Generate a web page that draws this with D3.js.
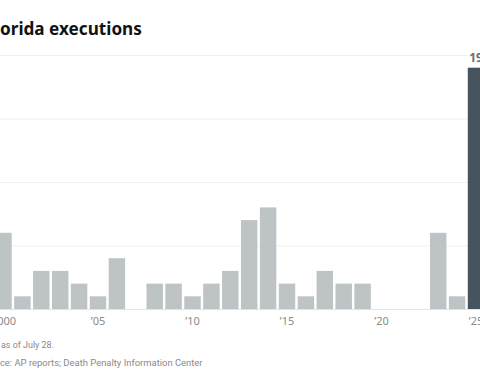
<!DOCTYPE html>
<html>
<head>
<meta charset="utf-8">
<script src="https://cdn.jsdelivr.net/npm/d3@7"></script>
<style>
  html, body { margin: 0; padding: 0; background: #fff; overflow: hidden; }
  svg { display: block; font-family: "Noto Sans", "Open Sans", sans-serif; }
</style>
</head>
<body>
<script>
const width = 480, height = 384;

// Florida executions per year
const years = d3.range(2000, 2026);
const counts = [6, 1, 3, 3, 2, 1, 4, 0, 2, 2, 1, 2, 3, 7, 8, 2, 1, 3, 2, 2, 0, 0, 0, 6, 1, 19];
const yTicks = [0, 5, 10, 15, 20];
const xTicks = [2000, 2005, 2010, 2015, 2020, 2025];
const highlightYear = 2025;

const data = years.map((y, i) => ({ year: y, value: counts[i] }));

const svg = d3.select('body').append('svg')
  .attr('width', width)
  .attr('height', height);

// the chart is cropped on both sides, so the band range runs past the frame
const step = 18.9;
const x = d3.scaleBand()
  .domain(years)
  .range([3.5 - step / 2, 3.5 - step / 2 + step * years.length])
  .paddingInner(0.13)
  .paddingOuter(0.065);

const y = d3.scaleLinear()
  .domain([0, 20])
  .range([309, 55]);

// gridlines
svg.append('g')
  .selectAll('line')
  .data(yTicks.filter(d => d > 0))
  .join('line')
  .attr('x1', 0)
  .attr('x2', width)
  .attr('y1', d => y(d) + 0.5)
  .attr('y2', d => y(d) + 0.5)
  .attr('stroke', '#efefef')
  .attr('stroke-width', 1);

// baseline
svg.append('line')
  .attr('x1', 0)
  .attr('x2', width)
  .attr('y1', y(0) + 0.5)
  .attr('y2', y(0) + 0.5)
  .attr('stroke', '#e2e2e2');

// bars
svg.append('g')
  .selectAll('rect')
  .data(data)
  .join('rect')
  .attr('x', d => x(d.year))
  .attr('width', x.bandwidth())
  .attr('y', d => y(d.value))
  .attr('height', d => y(0) - y(d.value))
  .attr('fill', d => d.year === highlightYear ? '#45545f' : '#bec3c6');

// value label on the highlighted bar
const hl = data.find(d => d.year === highlightYear);
svg.append('text')
  .attr('x', x(hl.year) + x.bandwidth() / 2)
  .attr('y', y(hl.value) - 6)
  .attr('text-anchor', 'middle')
  .attr('font-size', 12)
  .attr('font-weight', 700)
  .attr('fill', '#6d6d6d')
  .attr('stroke', '#fff')
  .attr('stroke-width', 3)
  .attr('paint-order', 'stroke')
  .text(hl.value);

// x axis labels
const xAxis = d3.axisBottom(x)
  .tickValues(xTicks)
  .tickSize(0)
  .tickPadding(8)
  .tickFormat(d => d === 2000 ? '2000' : '\u2019' + String(d).slice(2));

svg.append('g')
  .attr('transform', `translate(0,${y(0)})`)
  .call(xAxis)
  .call(g => g.select('.domain').remove())
  .call(g => g.selectAll('text')
    .attr('font-family', '"Noto Sans", "Open Sans", sans-serif')
    .attr('font-size', 11)
    .attr('fill', '#8a8a8a'));

// texts cropped on the left: the hidden prefix sits left of x = 0,
// and the size is tuned so the visible part spans [x0, x1]
function croppedText(hidden, visible, x0, x1, yPos, size, weight, fill, family) {
  const t = svg.append('text')
    .attr('y', yPos)
    .attr('font-family', family)
    .attr('font-size', size)
    .attr('font-weight', weight)
    .attr('fill', fill);
  t.text(visible);
  const fs = size * (x1 - x0) / t.node().getComputedTextLength();
  t.attr('font-size', fs);
  if (!hidden) {
    t.attr('x', x0);
    return;
  }
  t.text(hidden);
  const w = t.node().getComputedTextLength();
  t.attr('x', x0 - w).text(hidden + visible);
}

croppedText('Fl', 'orida executions', 0, 142, 35, 19, 700, '#121212', '"Noto Sans", sans-serif');
croppedText('', 'as of July 28.', 1, 54, 348, 10.5, 400, '#8a8a8a', 'Roboto, sans-serif');
croppedText('Sour', 'ce: AP reports; Death Penalty Information Center', 0, 203, 366, 10.5, 400, '#8a8a8a', 'Roboto, sans-serif');
</script>
</body>
</html>
